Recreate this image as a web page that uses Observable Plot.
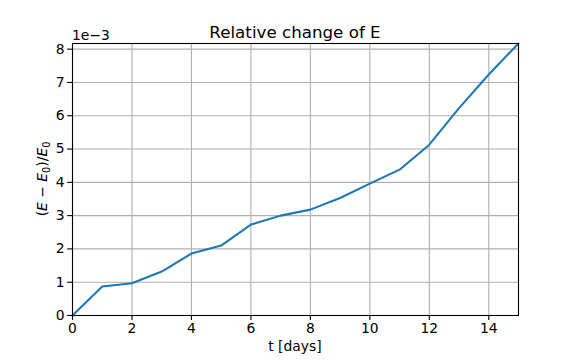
<!DOCTYPE html>
<html>
<head>
<meta charset="utf-8">
<script src="https://cdn.jsdelivr.net/npm/d3@7"></script>
<script src="https://cdn.jsdelivr.net/npm/@observablehq/plot@0.6"></script>
<style>
  html, body { margin: 0; padding: 0; background: #fff; }
  svg { display: block; }
</style>
</head>
<body>
<div id="chart"></div>
<script>
// Data (relative change of E, in units of 1e-3)
const days = [0, 1, 2, 3, 4, 5, 6, 7, 8, 9, 10, 11, 12, 13, 14, 15];
const relChange = [0, 0.87, 0.97, 1.32, 1.86, 2.10, 2.73, 3.00, 3.18, 3.53, 3.96, 4.38, 5.13, 6.23, 7.24, 8.17];
const xTicks = [0, 2, 4, 6, 8, 10, 12, 14];
const yTicks = [0, 1, 2, 3, 4, 5, 6, 7, 8];
const titleText = "Relative change of E";
const xLabel = "t [days]";
const offsetText = "1e\u22123";

const data = days.map((d, i) => ({t: d, v: relChange[i]}));

const font = "DejaVu Sans, sans-serif";
const plot = Plot.plot({
  width: 576,
  height: 360,
  marginLeft: 72,
  marginRight: 58,
  marginTop: 43,
  marginBottom: 45,
  style: {fontFamily: font, fontSize: "13.9px", color: "#000", background: "#fff"},
  x: {domain: [0, 15]},
  y: {domain: [0, 8.17]},
  marks: [
    Plot.gridX(xTicks, {stroke: "#b0b0b0", strokeOpacity: 1, strokeWidth: 1.1}),
    Plot.gridY(yTicks, {stroke: "#b0b0b0", strokeOpacity: 1, strokeWidth: 1.1}),
    Plot.line(data, {x: "t", y: "v", stroke: "#1f77b4", strokeWidth: 2.08}),
    Plot.frame({stroke: "#000", strokeWidth: 1.1}),
    Plot.axisX(xTicks, {tickSize: 4.9, tickPadding: 3, strokeWidth: 1.1, fill: "#000", label: null, fontSize: 13.9}),
    Plot.axisY(yTicks, {tickSize: 4.9, tickPadding: 3, strokeWidth: 1.1, fill: "#000", label: null, fontSize: 13.9, tickFormat: d => String(d)})
  ]
});

document.getElementById("chart").appendChild(plot);

const svg = d3.select(plot);
// Title
svg.append("text")
  .attr("x", 295).attr("y", 37.5)
  .attr("text-anchor", "middle")
  .style("font-family", font).style("font-size", "16.7px").attr("fill", "#000")
  .text(titleText);
// Offset text
svg.append("text")
  .attr("x", 72).attr("y", 40)
  .attr("text-anchor", "start")
  .style("font-family", font).style("font-size", "13.9px").attr("fill", "#000")
  .text(offsetText);
// X label
svg.append("text")
  .attr("x", 295).attr("y", 351)
  .attr("text-anchor", "middle")
  .style("font-family", font).style("font-size", "13.9px").attr("fill", "#000")
  .text(xLabel);
// Y label with math styling
const yl = svg.append("text")
  .attr("transform", "translate(47,179) rotate(-90)")
  .attr("text-anchor", "middle")
  .style("font-family", font).style("font-size", "13.9px").attr("fill", "#000");
yl.append("tspan").text("(");
yl.append("tspan").style("font-style", "italic").text("E");
yl.append("tspan").text(" \u2212 ");
yl.append("tspan").style("font-style", "italic").text("E");
yl.append("tspan").attr("baseline-shift", "-25%").style("font-size", "9.7px").text("0");
yl.append("tspan").text(")/");
yl.append("tspan").style("font-style", "italic").text("E");
yl.append("tspan").attr("baseline-shift", "-25%").style("font-size", "9.7px").text("0");
</script>
</body>
</html>
